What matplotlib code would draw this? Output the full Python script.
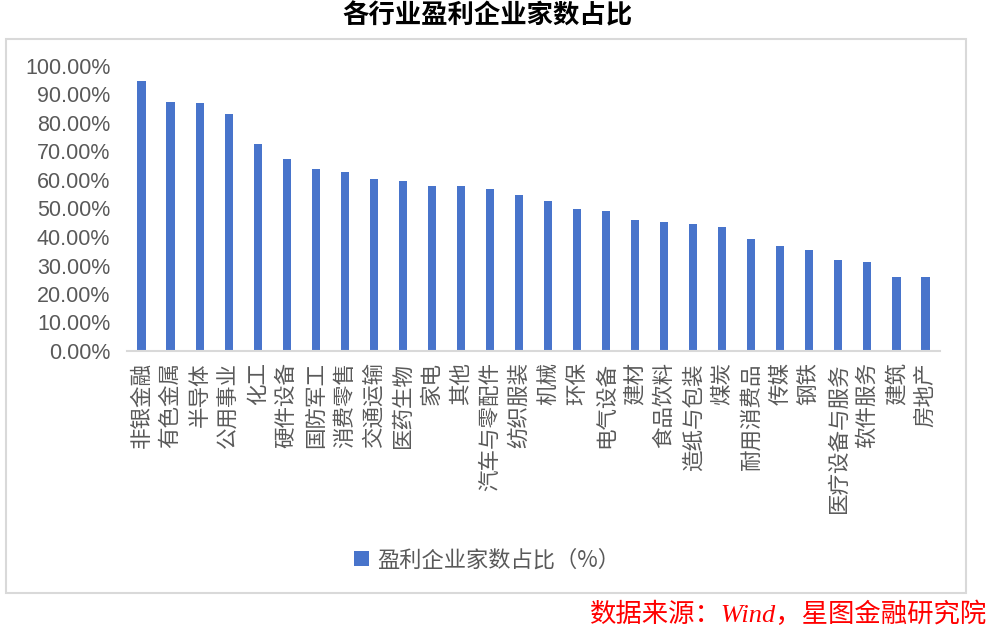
import matplotlib
matplotlib.use("Agg")
import matplotlib.pyplot as plt
from matplotlib.patches import Rectangle
from matplotlib.ticker import FuncFormatter

plt.rcParams['font.family'] = ['Noto Sans CJK SC', 'DejaVu Sans']

categories = ["非银金融", "有色金属", "半导体", "公用事业", "化工", "硬件设备", "国防军工",
              "消费零售", "交通运输", "医药生物", "家电", "其他", "汽车与零配件", "纺织服装",
              "机械", "环保", "电气设备", "建材", "食品饮料", "造纸与包装", "煤炭",
              "耐用消费品", "传媒", "钢铁", "医疗设备与服务", "软件服务", "建筑", "房地产"]
values = [94.6, 87.3, 86.9, 83.0, 72.7, 67.3, 63.8, 62.9, 60.5, 59.8, 58.0, 58.0, 56.9, 54.7,
          52.6, 49.7, 49.1, 46.0, 45.3, 44.5, 43.4, 39.2, 36.7, 35.6, 31.8, 31.1, 26.1, 26.1]
yticks = [0, 10, 20, 30, 40, 50, 60, 70, 80, 90, 100]
series_name = "盈利企业家数占比（%）"
title = "各行业盈利企业家数占比"
source = "数据来源：Wind，星图金融研究院"

W, H = 992, 632
fig = plt.figure(figsize=(W / 100, H / 100), dpi=100)
ax = fig.add_axes([127 / W, 1 - 351 / H, (940 - 127) / W, (351 - 66) / H])

x = list(range(len(categories)))
bars = ax.bar(x, values, width=0.28, color='#4874cb', label=series_name)

ax.set_xlim(-0.5, len(categories) - 0.5)
ax.set_ylim(0, 100)
ax.set_yticks(yticks)
ax.yaxis.set_major_formatter(FuncFormatter(lambda v, p: f"{v:.2f}%"))
for lab in ax.get_yticklabels():
    lab.set_family(['Liberation Sans', 'DejaVu Sans'])
ax.tick_params(axis='y', length=0, pad=12, labelsize=15.5, labelcolor='#595959')
ax.set_xticks(x)
ax.set_xticklabels(categories, rotation=90, fontsize=15.5, color='#595959', va='top', ha='center')
ax.tick_params(axis='x', length=0, pad=8)

for s in ['top', 'right', 'left']:
    ax.spines[s].set_visible(False)
ax.spines['bottom'].set_color('#d9d9d9')
ax.spines['bottom'].set_linewidth(1.5)

fig.patches.append(Rectangle((6 / W, 1 - 593 / H), 960 / W, (593 - 39) / H,
                             transform=fig.transFigure, fill=False,
                             edgecolor='#d9d9d9', linewidth=1.5))

fig.text(487 / W, 1 - 16 / H, title, ha='center', va='center', fontsize=19,
         fontweight='bold', color='black')

leg = fig.legend(handles=[bars], labels=[series_name], loc='center',
                 bbox_to_anchor=(487 / W, 1 - 560 / H), frameon=False,
                 fontsize=16, handlelength=0.68, handleheight=0.68, handletextpad=0.35)
for t in leg.get_texts():
    t.set_color('#595959')

fig.text(987 / W, 1 - 614 / H, source, ha='right', va='center', fontsize=19,
         style='italic', color='#ff0000',
         family=['Liberation Serif', 'Noto Sans CJK SC'])

fig.savefig("out.png", dpi=100)
